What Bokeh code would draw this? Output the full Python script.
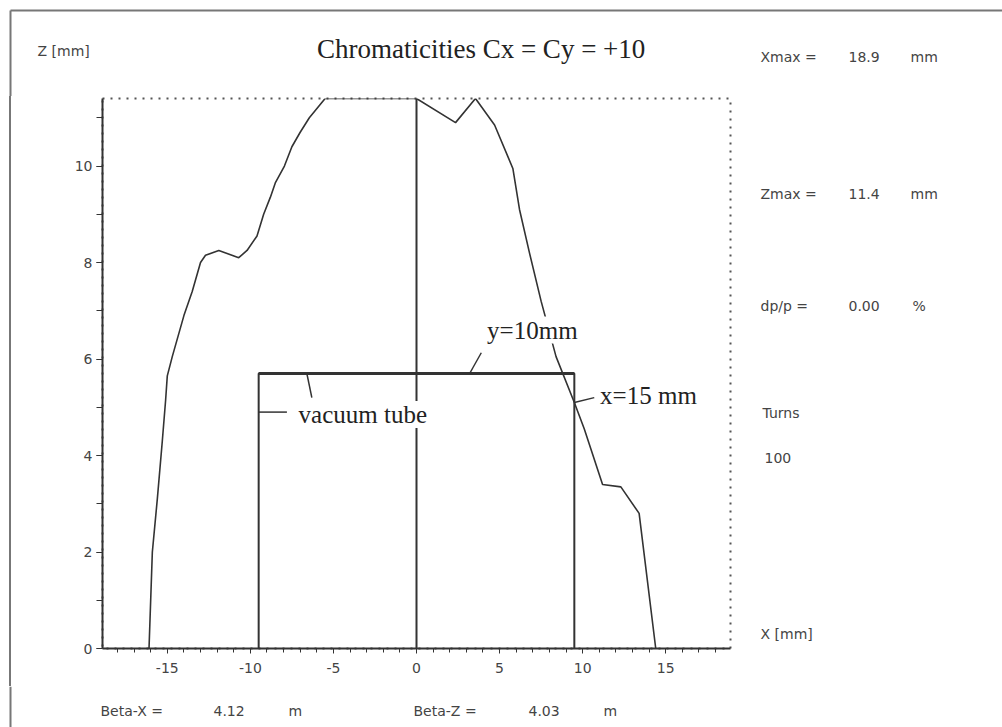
from bokeh.plotting import figure
from bokeh.layouts import column, row
from bokeh.models import Label, FixedTicker, Range1d, Div
from bokeh.core.properties import value
from bokeh.embed import file_html
from bokeh.resources import INLINE

# ---- data ----
aperture_x = [-16.1, -15.9, -15.6, -15.3, -15.1, -15.0, -14.7, -14.0, -13.5, -13.0,
              -12.7, -11.9, -10.7, -10.2, -9.6, -9.2, -8.8, -8.5, -7.95, -7.5,
              -7.0, -6.45, -5.5, 0.0, 2.35, 3.55, 4.7, 5.8, 6.2, 6.8, 7.5,
              8.4, 9.5, 10.1, 11.2, 12.3, 13.4, 14.4]
aperture_z = [0.0, 2.0, 3.1, 4.3, 5.15, 5.65, 6.05, 6.9, 7.4, 8.0,
              8.15, 8.25, 8.1, 8.25, 8.55, 9.0, 9.35, 9.65, 10.0, 10.4,
              10.7, 11.0, 11.4, 11.4, 10.9, 11.4, 10.85, 9.95, 9.1, 8.2, 7.2,
              6.05, 5.1, 4.55, 3.4, 3.35, 2.8, 0.0]

tube_half_x = 9.5
tube_half_z = 5.7
x_max = 18.9
z_max = 11.4

x_major = [-15, -10, -5, 0, 5, 10, 15]
x_minor = list(range(-18, 19))
z_major = [0, 2, 4, 6, 8, 10]
z_minor = list(range(0, 12))

title_text = "Chromaticities  Cx = Cy = +10"
z_axis_name = "Z [mm]"
x_axis_name = "X [mm]"
info_labels = ["Zmax =", "dp/p ="]
info_values = ["11.4", "0.00"]
info_units = ["mm", "%"]
xmax_row = ["Xmax =", "18.9", "mm"]
turns_row = ["Turns", "100"]
beta_labels = ["Beta-X =", "Beta-Z ="]
beta_values = ["4.12", "4.03"]
beta_units = ["m", "m"]

INK = "#333333"
TXT = "#444444"
SCAN = "#777777"
SANS = "DejaVu Sans"
SERIF = "Liberation Serif"


def strip(w, h, xr, yr, top=0, bottom=0):
    f = figure(width=w, height=h, output_backend="svg", toolbar_location=None,
               x_range=Range1d(*xr), y_range=Range1d(*yr),
               x_axis_type=None, y_axis_type=None, title=None)
    f.min_border = 0
    f.min_border_left = 0
    f.min_border_right = 0
    f.min_border_top = top
    f.min_border_bottom = bottom
    f.grid.visible = False
    f.outline_line_color = None
    f.background_fill_color = "white"
    f.border_fill_color = "white"
    return f


def put(f, xs, ys, texts, size="14px", font=SANS, align="left", color=TXT):
    f.text(xs, ys, text=texts, text_font=value(font), text_font_size=size,
           text_color=color, text_baseline="middle", text_align=align)


# ---------- top strip (page coords: x 0..1002, y 0..96) ----------
top = strip(1002, 96, (0, 1002), (96, 0))
top.line([10, 1002], [10, 10], line_color=SCAN, line_width=2)
top.line([10, 10], [10, 96], line_color=SCAN, line_width=2)
put(top, [484], [48], [title_text], size="27px", font=SERIF, align="center", color="#222222")
put(top, [37], [50], [z_axis_name])
put(top, [760, 848, 910], [56, 56, 56], xmax_row)

# ---------- left scan edge ----------
edge = Div(text="", width=12, height=590, margin=0,
           styles={"background": "linear-gradient(to right, #ffffff 0px, #ffffff 9px, "
                                 "#777777 9px, #777777 11px, #ffffff 11px)"})

# ---------- main chart ----------
p = figure(width=720, height=590, output_backend="svg", toolbar_location=None,
           x_range=Range1d(-x_max, x_max), y_range=Range1d(0, z_max), title=None)
p.min_border_left = 90
p.min_border_right = 2
p.min_border_top = 2
p.min_border_bottom = 38
p.background_fill_color = "white"
p.border_fill_color = "white"
p.grid.visible = False
p.outline_line_color = "#555555"
p.outline_line_dash = "2 6"
p.outline_line_width = 2

xa = p.xaxis[0]
xa.ticker = FixedTicker(ticks=x_major, minor_ticks=x_minor)
xa.major_label_overrides = {v: str(v) for v in x_major}
xa.axis_line_color = INK
xa.axis_line_width = 2
xa.major_tick_out = 5
xa.major_tick_in = 0
xa.minor_tick_out = 4
xa.minor_tick_in = 0
xa.major_tick_line_color = INK
xa.minor_tick_line_color = INK
xa.major_label_standoff = 9
xa.major_label_text_font = SANS
xa.major_label_text_font_size = "14px"
xa.major_label_text_color = TXT

ya = p.yaxis[0]
ya.ticker = FixedTicker(ticks=z_major, minor_ticks=z_minor)
ya.axis_line_color = INK
ya.axis_line_width = 2
ya.major_tick_out = 6
ya.major_tick_in = 0
ya.minor_tick_out = 6
ya.minor_tick_in = 0
ya.major_tick_line_color = INK
ya.minor_tick_line_color = INK
ya.major_label_standoff = 4
ya.major_label_text_font = SANS
ya.major_label_text_font_size = "14px"
ya.major_label_text_color = TXT

# vertical centre line
p.line([0, 0], [0, z_max], line_color=INK, line_width=2)

# vacuum tube
p.line([-tube_half_x, -tube_half_x, tube_half_x, tube_half_x],
       [0, tube_half_z, tube_half_z, 0], line_color=INK, line_width=2)
p.line([-tube_half_x, tube_half_x], [tube_half_z, tube_half_z], line_color=INK, line_width=3)

# dynamic aperture
p.line(aperture_x, aperture_z, line_color=INK, line_width=1.6)

# leader lines
p.line([3.9, 3.2], [6.13, tube_half_z], line_color=INK, line_width=1.5)
p.line([tube_half_x, 10.7], [5.1, 5.2], line_color=INK, line_width=1.5)
p.line([-6.6, -6.3], [tube_half_z, 5.2], line_color=INK, line_width=1.5)
p.line([-tube_half_x, -7.8], [4.9, 4.9], line_color=INK, line_width=1.5)


def ann(x, y, t):
    p.add_layout(Label(x=x, y=y, text=t, text_font=SERIF, text_font_size="25px",
                       text_color="#222222", text_baseline="middle", text_align="left",
                       background_fill_color="white", background_fill_alpha=1.0))


ann(4.25, 6.6, "y=10mm")
ann(11.05, 5.25, "x=15 mm")
ann(-7.1, 4.85, "vacuum tube")

# ---------- right panel (frame = page x 732..1002, y 98..648) ----------
side = strip(270, 590, (732, 1002), (648, 98), top=2, bottom=38)
put(side, [760, 760], [193, 305], info_labels)
put(side, [848, 848], [193, 305], info_values)
put(side, [910, 912], [193, 305], info_units)
put(side, [762, 764], [412, 457], turns_row)
put(side, [760], [633], [x_axis_name])

# ---------- bottom strip (page y 686..727) ----------
bottom = strip(1002, 41, (0, 1002), (727, 686))
bottom.line([10, 10], [686, 727], line_color=SCAN, line_width=2)
put(bottom, [100, 413], [710, 710], beta_labels)
put(bottom, [213, 528], [710, 710], beta_values)
put(bottom, [288, 603], [710, 710], beta_units)

layout = column(top, row(edge, p, side), bottom)
open("out.html", "w").write(file_html(layout, INLINE))
